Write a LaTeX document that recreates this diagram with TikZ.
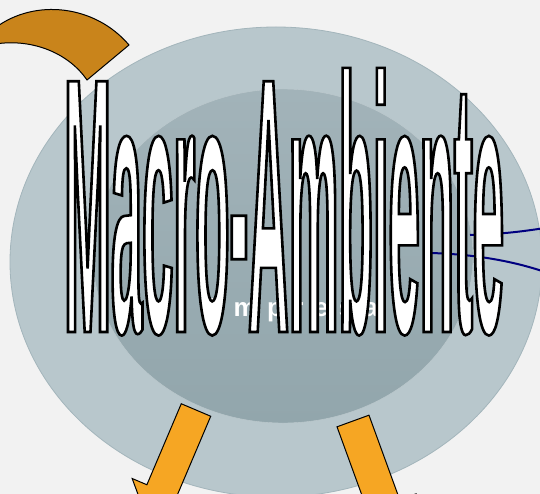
\documentclass[tikz,border=0pt]{standalone}
\usepackage{fontspec}
\usetikzlibrary{shapes.geometric, positioning}
\newfontfamily\titlefont[FakeStretch=0.154]{Liberation Sans Bold}
\newfontfamily\labelfont[LetterSpace=40]{Liberation Sans Bold}
\definecolor{bggray}{RGB}{242,242,242}
\definecolor{ringgray}{RGB}{184,199,204}
\definecolor{ringedge}{RGB}{163,181,187}
\definecolor{coretop}{RGB}{162,179,185}
\definecolor{corebottom}{RGB}{146,166,172}
\definecolor{arcorange}{RGB}{201,132,27}
\definecolor{arroworange}{RGB}{246,166,35}
\definecolor{linkblue}{RGB}{0,0,128}

\begin{document}
\begin{tikzpicture}[x=1pt, y=-1pt,
  ring/.style={ellipse, draw=ringedge, fill=ringgray, line width=0.8pt, inner sep=0pt,
               minimum width=532pt, minimum height=470pt},
  core/.style={ellipse, top color=coretop, bottom color=corebottom, draw=ringedge!70,
               inner sep=0pt, minimum width=380pt, minimum height=334pt},
  link/.style={linkblue, line width=2pt},
  fatarrow/.style={fill=arroworange, draw=black, line width=1pt, line join=miter},
  bendarrow/.style={fill=arcorange, draw=black, line width=1pt, line join=miter}
]
  \useasboundingbox[fill=bggray] (0,0) rectangle (540,494);

  \node[ring] (macro) at (276,262) {};
  \node[core] (micro) at (283,256) {};
  \node[text=white, font=\labelfont\fontsize{26}{26}\selectfont, anchor=base] (empresa) at (292,316) {Empresa};

  \coordinate (upperin) at (470,235);
  \coordinate (upperout) at (545,228);
  \coordinate (lowerin) at (430,253);
  \coordinate (lowerout) at (545,272);
  \draw[link] (upperin) .. controls (505,234) and (525,231) .. (upperout);
  \draw[link] (lowerin) .. controls (470,254) and (510,260) .. (lowerout);

  \node[anchor=base west, inner sep=0pt, text=white,
        font=\titlefont\fontsize{364.5}{364.5}\selectfont] (title) at (64,332)
        {\special{pdf:literal direct 0 G 2 Tr 2.6 w}Macro-Ambiente\special{pdf:literal direct 0 Tr}};

  \draw[bendarrow] (-5,28) .. controls (35,-2) and (95,5) .. (129,45) -- (87,80)
        .. controls (70,55) and (35,38) .. (-5,44) -- cycle;

  \begin{scope}[shift={(196,410)}, rotate=247]
    \draw[fatarrow] (0,16) -- (88,16) -- (88,32) -- (122,0) -- (88,-32) -- (88,-16) -- (0,-16) -- cycle;
  \end{scope}
  \begin{scope}[shift={(353,421)}, rotate=290]
    \draw[fatarrow] (0,17) -- (90,17) -- (90,34) -- (124,0) -- (90,-34) -- (90,-17) -- (0,-17) -- cycle;
  \end{scope}
\end{tikzpicture}
\end{document}
